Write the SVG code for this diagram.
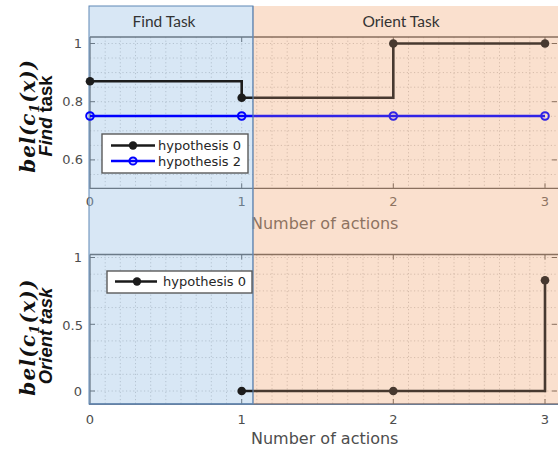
<svg xmlns="http://www.w3.org/2000/svg" width="558" height="449" viewBox="0 0 558 449">
<style>
.grid{stroke:#c4c4c4;stroke-width:1;stroke-dasharray:1.2 2.4;fill:none}
.axis{stroke:#4a4a4a;stroke-width:1.3;fill:none}
.tick{stroke:#4a4a4a;stroke-width:1;fill:none}
.tl{font-family:"DejaVu Sans",sans-serif;font-size:13px;fill:#4d4d4d}
.xl{font-family:"DejaVu Sans",sans-serif;font-size:16px;fill:#4d4d4d}
.h0{stroke:#1c1c1c;stroke-width:2.6;fill:none}
.h2{stroke:#0000ff;stroke-width:2.6;fill:none}
.m0{fill:#1c1c1c}
.m2{fill:none;stroke:#0000ff;stroke-width:2}
.leg{fill:#ffffff;stroke:#5a5a5a;stroke-width:1.4}
.lt{font-family:"DejaVu Sans",sans-serif;font-size:13px;fill:#262626}
.hdr{font-family:Lato,"Open Sans",sans-serif;font-size:15.5px;fill:#333333}
.bel{font-family:"DejaVu Serif",serif;font-weight:bold;font-style:italic;font-size:20px;fill:#111}
.task{font-family:"Liberation Sans",Arial,sans-serif;font-weight:bold;font-size:18.5px;fill:#111}
</style>
<rect x="0" y="0" width="558" height="449" fill="#ffffff"/>

<g id="top-axes">
  <g id="top-grid" class="grid">
    <path d="M105.2,37V188M120.3,37V188M135.5,37V188M150.7,37V188M165.8,37V188M181,37V188M196.2,37V188M211.3,37V188M226.5,37V188M241.7,37V188M256.8,37V188M272,37V188M287.2,37V188M302.3,37V188M317.5,37V188M332.7,37V188M347.8,37V188M363,37V188M378.2,37V188M393.3,37V188M408.5,37V188M423.7,37V188M438.8,37V188M454,37V188M469.2,37V188M484.3,37V188M499.5,37V188M514.7,37V188M529.8,37V188M545,37V188"/>
    <path d="M90,43.5H557M90,58H557M90,72.6H557M90,87.2H557M90,101.7H557M90,116.3H557M90,130.8H557M90,145.4H557M90,159.9H557M90,174.5H557"/>
  </g>
  <path class="axis" d="M90,37V188.3H558M90,37H558"/>
  <path class="tick" d="M90,43.5h5M90,101.7h5M90,159.9h5M557,43.5h-5M557,101.7h-5M557,159.9h-5M241.7,188.3v-5M393.3,188.3v-5M545,188.3v-5M241.7,37v5M393.3,37v5M545,37v5"/>
  <g class="tl">
    <text x="82" y="48" text-anchor="end">1</text>
    <text x="83" y="106" text-anchor="end">0.8</text>
    <text x="83" y="164" text-anchor="end">0.6</text>
    <text x="90" y="206" text-anchor="middle">0</text>
    <text x="241.7" y="206" text-anchor="middle">1</text>
    <text x="393.3" y="206" text-anchor="middle">2</text>
    <text x="545" y="206" text-anchor="middle">3</text>
  </g>
  <text class="xl" x="251" y="229">Number of actions</text>
</g>

<g id="bottom-axes">
  <g id="bottom-grid" class="grid">
    <path d="M105.2,255V404M120.3,255V404M135.5,255V404M150.7,255V404M165.8,255V404M181,255V404M196.2,255V404M211.3,255V404M226.5,255V404M241.7,255V404M256.8,255V404M272,255V404M287.2,255V404M302.3,255V404M317.5,255V404M332.7,255V404M347.8,255V404M363,255V404M378.2,255V404M393.3,255V404M408.5,255V404M423.7,255V404M438.8,255V404M454,255V404M469.2,255V404M484.3,255V404M499.5,255V404M514.7,255V404M529.8,255V404M545,255V404"/>
    <path d="M90,257.5H557M90,274.2H557M90,290.9H557M90,307.6H557M90,324.3H557M90,340.9H557M90,357.6H557M90,374.3H557M90,391H557"/>
  </g>
  <path class="axis" d="M90,254.5H558M90,254.5V404"/>
  <path d="M89,404H558" stroke="#3b4f6e" stroke-width="1.5"/>
  <path class="tick" d="M90,257.5h5M90,324.3h5M90,391h5M557,257.5h-5M557,324.3h-5M557,391h-5M241.7,404v-5M393.3,404v-5M545,404v-5M241.7,254.5v5M393.3,254.5v5M545,254.5v5"/>
  <g class="tl">
    <text x="82" y="262" text-anchor="end">1</text>
    <text x="83" y="330" text-anchor="end">0.5</text>
    <text x="82" y="396" text-anchor="end">0</text>
    <text x="90" y="424" text-anchor="middle">0</text>
    <text x="241.7" y="424" text-anchor="middle">1</text>
    <text x="393.3" y="424" text-anchor="middle">2</text>
    <text x="545" y="424" text-anchor="middle">3</text>
  </g>
  <text class="xl" x="251" y="444">Number of actions</text>
</g>

<g id="task-regions">
  <rect id="find-region" x="89" y="6" width="164" height="398" fill="#9dc3e6" fill-opacity="0.4" stroke="#5f87b5" stroke-width="1"/>
  <rect id="orient-region" x="253" y="6" width="305" height="398" fill="#f4b183" fill-opacity="0.23"/>
</g>

<g id="series">
  <path class="h2" d="M90,116H545"/>
  <circle class="m2" cx="90" cy="116" r="3.8"/>
  <circle class="m2" cx="241.7" cy="116" r="3.8"/>
  <circle class="m2" cx="393.3" cy="116" r="3.8"/>
  <circle class="m2" cx="545" cy="116" r="3.8"/>
  <path class="h0" d="M90,81.2H241.7V97.7H393.3V43.5H545"/>
  <circle class="m0" cx="90" cy="81.2" r="4.3"/>
  <circle class="m0" cx="241.7" cy="97.7" r="4.3"/>
  <circle class="m0" cx="393.3" cy="43.5" r="4.3"/>
  <circle class="m0" cx="545" cy="43.5" r="4.3"/>
  <path class="h0" d="M241.7,391H545V280.2"/>
  <circle class="m0" cx="241.7" cy="391" r="4.3"/>
  <circle class="m0" cx="393.3" cy="391" r="4.3"/>
  <circle class="m0" cx="545" cy="280.2" r="4.3"/>
</g>

<g id="orient-tint">
  <rect x="253" y="6" width="305" height="398" fill="#f4b183" fill-opacity="0.2"/>
  <line x1="253" y1="6" x2="253" y2="404" stroke="#5f87b5" stroke-width="1"/>
</g>

<g id="headers">
  <text class="hdr" x="164" y="27" text-anchor="middle">Find Task</text>
  <text class="hdr" x="401" y="27" text-anchor="middle">Orient Task</text>
</g>

<g id="legend-top">
  <rect class="leg" x="102" y="134" width="146" height="39"/>
  <path d="M111,145.5H155" stroke="#1a1a1a" stroke-width="2.6"/>
  <circle class="m0" cx="133" cy="145.5" r="4.2"/>
  <text class="lt" x="158" y="150">hypothesis 0</text>
  <path d="M111,161H155" stroke="#0000ff" stroke-width="2.6"/>
  <circle class="m2" cx="133" cy="161" r="3.6" fill="#ffffff"/>
  <text class="lt" x="158" y="165.5">hypothesis 2</text>
</g>

<g id="legend-bottom">
  <rect class="leg" x="107" y="271" width="145" height="22"/>
  <path d="M115,281.5H157" stroke="#1a1a1a" stroke-width="2.6"/>
  <circle class="m0" cx="137" cy="281.5" r="4.2"/>
  <text class="lt" x="163" y="286">hypothesis 0</text>
</g>

<g id="y-label-top">
  <text class="bel" transform="translate(35,116) rotate(-90)" text-anchor="middle" letter-spacing="0.8">bel(c<tspan font-size="13" dy="4">1</tspan><tspan dy="-4">(x))</tspan></text>
  <text class="task" transform="translate(52,116) rotate(-90)" text-anchor="middle"><tspan font-style="italic">Find</tspan> task</text>
</g>
<g id="y-label-bottom">
  <text class="bel" transform="translate(35,337) rotate(-90)" text-anchor="middle" letter-spacing="1.2">bel(c<tspan font-size="13" dy="4">1</tspan><tspan dy="-4">(x))</tspan></text>
  <text class="task" font-style="italic" transform="translate(52,336) rotate(-90)" text-anchor="middle">Orient  task</text>
</g>
</svg>
